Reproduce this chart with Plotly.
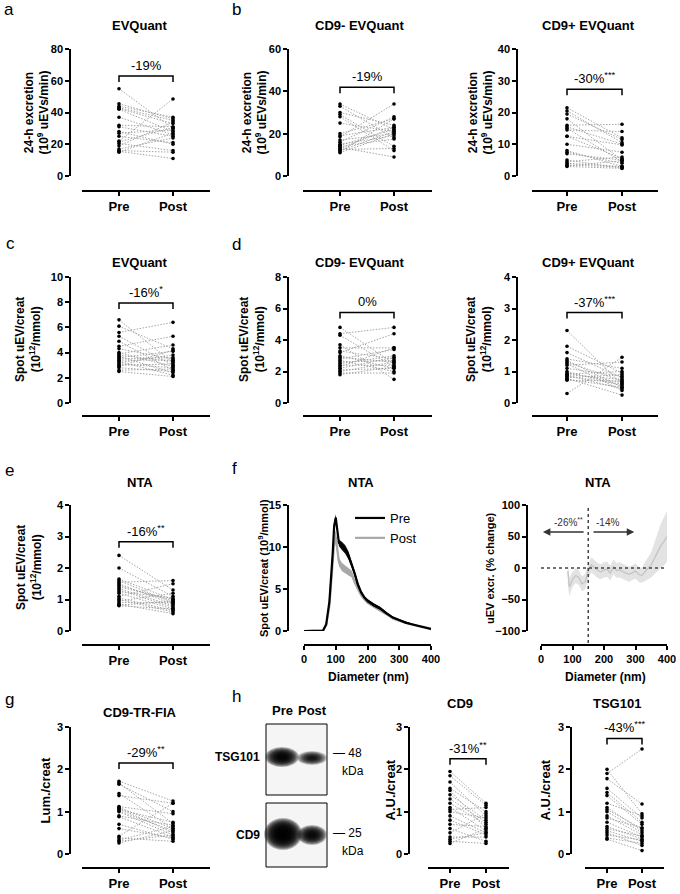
import plotly.graph_objects as go

W, H = 680, 894
FONT = "Liberation Sans, Arial, Helvetica, sans-serif"

# ---------------- data ----------------
timepoints = ["Pre", "Post"]

# a  EVQuant, 24-h excretion
a_pre = [55, 45.5, 44, 43, 42.5, 42, 37, 32, 31, 28, 27, 25, 22, 21.5, 20.5, 19, 17, 16, 15.5, 15]
a_post = [30, 36, 37, 35, 33, 28, 26, 31, 25, 20, 29, 21, 48.5, 30.5, 16, 34, 24, 15, 11, 27]
# b  CD9- EVQuant, 24-h excretion
b1_pre = [34, 33, 30, 29, 28, 25, 20, 19, 18.5, 17, 16, 15, 14.5, 14, 13.5, 13, 12.5, 12, 11.5, 11]
b1_post = [22, 18, 24, 14, 12, 21, 27, 23, 34, 20, 28, 19, 22, 17.5, 9, 23, 13, 21, 27, 20]
# b  CD9+ EVQuant, 24-h excretion
b2_pre = [21.5, 20.5, 19.5, 18, 16, 15.5, 15, 14.5, 12.5, 12.5, 10, 8, 7.5, 7, 5, 4.5, 4, 3.5, 3.2, 3]
b2_post = [12, 10.5, 11.5, 5, 16.3, 10, 4.5, 14, 9.8, 5.5, 7.5, 3, 4, 5, 2.5, 6, 3, 2.8, 4.8, 2.4]
# c  EVQuant, spot
c_pre = [6.6, 6.1, 5.6, 5.3, 4.9, 4.5, 4.3, 4.0, 3.9, 3.8, 3.7, 3.6, 3.5, 3.4, 3.3, 3.2, 3.1, 3.0, 2.9, 2.8, 2.6, 2.5]
c_post = [3.2, 4.3, 6.4, 3.0, 2.6, 5.3, 3.5, 2.9, 4.6, 3.3, 2.4, 4.1, 3.6, 3.4, 2.2, 3.8, 2.8, 3.1, 4.2, 2.5, 2.7, 2.1]
# d  CD9- EVQuant, spot
d1_pre = [4.8, 4.4, 4.3, 3.7, 3.5, 3.3, 3.2, 3.0, 2.9, 2.8, 2.7, 2.6, 2.5, 2.4, 2.3, 2.2, 2.1, 2.0, 1.9, 1.8]
d1_post = [2.5, 4.8, 2.3, 1.5, 3.5, 2.8, 4.4, 2.2, 2.6, 3.4, 2.0, 2.7, 3.0, 2.4, 3.5, 2.9, 2.2, 2.6, 1.9, 2.3]
# d  CD9+ EVQuant, spot
d2_pre = [2.3, 1.8, 1.6, 1.4, 1.35, 1.3, 1.2, 1.1, 1.0, 0.95, 0.92, 0.9, 0.88, 0.85, 0.8, 0.78, 0.75, 0.72, 0.3, 1.25]
d2_post = [0.6, 0.95, 0.8, 1.1, 0.5, 0.7, 1.3, 0.85, 0.55, 0.65, 1.0, 0.75, 0.45, 0.6, 0.9, 0.25, 0.5, 0.7, 1.45, 0.4]
# e  NTA, spot
e_pre = [2.4, 2.0, 1.65, 1.6, 1.55, 1.5, 1.45, 1.4, 1.35, 1.3, 1.2, 1.1, 1.05, 1.0, 0.95, 0.9, 0.85, 0.82, 0.8, 1.25]
e_post = [1.3, 1.1, 1.0, 0.9, 1.6, 0.85, 0.95, 1.0, 0.8, 0.75, 0.7, 1.5, 0.65, 0.6, 1.2, 0.9, 0.55, 0.95, 0.7, 1.05]
# f  NTA size distribution
f_diam = [0, 20, 40, 60, 70, 80, 90, 95, 100, 105, 110, 120, 130, 140, 150, 160, 170, 180, 190, 200,
          220, 240, 260, 280, 300, 320, 340, 360, 380, 400]
f_pre_mean = [0, 0, 0, 0.05, 0.8, 3.5, 9, 12.5, 13.5, 12, 10.5, 10.1, 9.7, 9.0, 8.0, 6.8, 5.5, 4.6, 4.0, 3.6,
              3.1, 2.7, 2.1, 1.6, 1.3, 1.0, 0.8, 0.6, 0.4, 0.25]
f_pre_sem = [0, 0, 0, 0.05, 0.2, 0.3, 0.4, 0.4, 0.4, 0.4, 0.4, 0.5, 0.5, 0.5, 0.4, 0.35, 0.3, 0.25, 0.2, 0.2,
             0.2, 0.2, 0.15, 0.12, 0.1, 0.1, 0.08, 0.06, 0.05, 0.04]
f_post_mean = [0, 0, 0, 0.05, 0.7, 3.0, 8, 10.5, 11.2, 9.5, 8.2, 7.6, 7.3, 7.1, 6.8, 5.8, 5.0, 4.3, 3.8, 3.4,
               2.9, 2.5, 2.0, 1.5, 1.2, 0.95, 0.75, 0.55, 0.38, 0.22]
f_post_sem = [0, 0, 0, 0.05, 0.2, 0.4, 0.6, 0.8, 0.8, 0.6, 0.5, 0.5, 0.5, 0.5, 0.4, 0.35, 0.3, 0.25, 0.2, 0.2,
              0.2, 0.2, 0.15, 0.12, 0.1, 0.1, 0.08, 0.06, 0.05, 0.04]
# f  NTA % change
f2_diam = [85, 90, 100, 110, 120, 130, 140, 150, 160, 170, 180, 190, 200, 210, 220, 230, 240, 250, 260,
           270, 280, 290, 300, 310, 320, 330, 340, 350, 360, 370, 380, 390, 400]
f2_mean = [-5, -30, -18, -12, -15, -25, -22, -5, 5, 0, -4, -6, -3, -2, -8, 2, -4, -3, -6, -8, -10, -7,
           -5, -10, -12, -6, 0, 5, 15, 25, 35, 42, 50]
f2_err = [20, 15, 12, 12, 12, 12, 12, 12, 12, 12, 12, 12, 12, 12, 12, 12, 12, 12, 12, 12, 12, 12, 12,
          12, 12, 15, 18, 20, 25, 30, 35, 38, 40]
# g  CD9-TR-FIA
g_pre = [1.72, 1.68, 1.65, 1.43, 1.38, 1.12, 1.08, 1.05, 1.02, 1.0, 0.9, 0.88, 0.6, 0.42, 0.38, 0.33, 0.3, 0.26, 0.7, 1.1]
g_post = [1.25, 0.72, 1.0, 0.6, 1.2, 0.95, 0.5, 0.75, 0.55, 0.45, 0.68, 0.4, 0.38, 1.2, 0.3, 0.65, 0.45, 0.55, 0.35, 0.6]
# h  western blot quantification
h1_pre = [1.95, 1.85, 1.7, 1.55, 1.5, 1.4, 1.3, 1.2, 1.1, 1.05, 1.0, 0.9, 0.8, 0.7, 0.6, 0.5, 0.4, 0.35, 0.3, 0.25]
h1_post = [1.2, 1.15, 0.9, 1.0, 0.6, 0.8, 0.75, 0.7, 0.55, 1.1, 0.85, 0.5, 0.45, 0.65, 0.3, 0.95, 0.4, 0.5, 0.25, 0.6]
h2_pre = [2.0, 1.9, 1.78, 1.55, 1.45, 1.38, 1.2, 1.1, 1.05, 1.0, 0.9, 0.85, 0.75, 0.65, 0.55, 0.5, 0.45, 0.38, 0.35, 0.6]
h2_post = [0.95, 2.48, 1.18, 0.85, 0.75, 0.7, 0.9, 0.55, 0.6, 0.5, 0.45, 0.62, 0.4, 0.35, 0.3, 0.2, 0.33, 0.25, 0.08, 0.42]


def fx(px):
    return px / W


def fy(py):
    return 1 - py / H


fig = go.Figure()
annotations = []
shapes = []
layout_axes = {}


def names(i):
    s = "" if i == 1 else str(i)
    return "xaxis" + s, "yaxis" + s, "x" + s, "y" + s


def axis_common():
    return dict(showline=True, linecolor="black", linewidth=1.5, ticks="outside", ticklen=4,
                tickwidth=1.5, tickcolor="black", showgrid=False, zeroline=False,
                automargin=False, fixedrange=True)


def ptext(x, y, text, size=12, bold=False, xanchor="center", angle=0, color="black"):
    annotations.append(dict(x=fx(x), y=fy(y), xref="paper", yref="paper", xanchor=xanchor, yanchor="middle",
                            text=("<b>%s</b>" % text) if bold else text, textangle=angle, showarrow=False,
                            font=dict(size=size, color=color, family=FONT)))


def add_paired(i, pre, post, colgeo, rowgeo, yticks, br, label, title, tx, ty, ytitle, ytx, yt_size=12):
    xa, ya, xr, yr = names(i)
    yl, xl0, xl1, xpre, xpost = colgeo
    ytop, yzero, xline = rowgeo
    unit = xpost - xpre
    r0 = -(xpre - xl0) / unit
    r1 = 1 + (xl1 - xpost) / unit
    ymax = yticks[-1]
    layout_axes[xa] = dict(axis_common(), domain=[fx(xl0), fx(xl1)], range=[r0, r1], anchor="free",
                           position=fy(xline), tickvals=[0, 1], ticktext=timepoints,
                           tickfont=dict(size=13, weight="bold", color="black", family=FONT))
    layout_axes[ya] = dict(axis_common(), domain=[fy(yzero), fy(ytop)], range=[0, ymax], anchor="free",
                           position=fx(yl), tickvals=yticks,
                           tickfont=dict(size=11, weight="bold", color="black", family=FONT))
    lx, ly = [], []
    for p, q in zip(pre, post):
        lx += [0, 1, None]
        ly += [p, q, None]
    fig.add_trace(go.Scatter(x=lx, y=ly, xaxis=xr, yaxis=yr, mode="lines", showlegend=False,
                             line=dict(color="#9c9c9c", width=0.9, dash="1.5px,1.5px"), hoverinfo="skip"))
    fig.add_trace(go.Scatter(x=[0] * len(pre) + [1] * len(post), y=list(pre) + list(post), xaxis=xr, yaxis=yr,
                             mode="markers", showlegend=False, cliponaxis=False,
                             marker=dict(color="black", size=3.6)))
    bh = ymax * 6 / (yzero - ytop)
    fig.add_trace(go.Scatter(x=[0, 0, 1, 1], y=[br - bh, br, br, br - bh], xaxis=xr, yaxis=yr, mode="lines",
                             showlegend=False, cliponaxis=False, line=dict(color="black", width=1.5),
                             hoverinfo="skip"))
    annotations.append(dict(x=0.5, y=br, xref=xr, yref=yr, text=label, showarrow=False, xanchor="center",
                            yanchor="bottom", yshift=1, font=dict(size=13, color="black", family=FONT)))
    ptext(tx, ty, title, size=13, bold=True)
    ptext(ytx, (ytop + yzero) / 2, ytitle, size=yt_size, bold=True, angle=-90)


colA = (70, 82, 210, 119, 173)
colB1 = (288, 303, 432, 340, 394)
colB2 = (517, 532, 658, 567, 622)
colH1 = (409, 428, 509, 450, 486)
colH2 = (571, 585, 664, 607, 642)
row1 = (49, 176, 191)
row2 = (277, 403, 416)
row3 = (505, 631, 645)
row4 = (727, 854, 868)

yt24 = "24-h excretion<br>(10<sup>9</sup> uEVs/min)"
ytsp = "Spot uEV/creat<br>(10<sup>12</sup>/mmol)"

add_paired(1, a_pre, a_post, colA, row1, [0, 20, 40, 60, 80], 63, "-19%", "EVQuant", 140, 26, yt24, 36)
add_paired(2, b1_pre, b1_post, colB1, row1, [0, 20, 40, 60], 41.9, "-19%", "CD9- EVQuant", 360, 26, yt24, 254)
add_paired(3, b2_pre, b2_post, colB2, row1, [0, 10, 20, 30, 40], 27.3, "-30%<sup>***</sup>", "CD9+ EVQuant", 588, 26, yt24, 480)
add_paired(4, c_pre, c_post, colA, row2, [0, 2, 4, 6, 8, 10], 7.94, "-16%<sup>*</sup>", "EVQuant", 140, 262, ytsp, 28)
add_paired(5, d1_pre, d1_post, colB1, row2, [0, 2, 4, 6, 8], 5.75, "0%", "CD9- EVQuant", 360, 262, ytsp, 252)
add_paired(6, d2_pre, d2_post, colB2, row2, [0, 1, 2, 3, 4], 2.87, "-37%<sup>***</sup>", "CD9+ EVQuant", 588, 262, ytsp, 479)
add_paired(7, e_pre, e_post, colA, row3, [0, 1, 2, 3, 4], 2.83, "-16%<sup>**</sup>", "NTA", 140, 482, ytsp, 29)
add_paired(10, g_pre, g_post, colA, row4, [0, 1, 2, 3], 2.15, "-29%<sup>**</sup>", "CD9-TR-FIA", 140, 712, "Lum./creat", 45, 13)
add_paired(11, h1_pre, h1_post, colH1, row4, [0, 1, 2, 3], 2.25, "-31%<sup>**</sup>", "CD9", 460, 703, "A.U./creat", 390, 13)
add_paired(12, h2_pre, h2_post, colH2, row4, [0, 1, 2, 3], 2.73, "-43%<sup>***</sup>", "TSG101", 617, 703, "A.U./creat", 545, 13)

# ---------- f left: size distribution ----------
xa, ya, xr, yr = names(8)
layout_axes[xa] = dict(axis_common(), domain=[fx(304), fx(431)], range=[0, 400], anchor="free", position=fy(645),
                       tickvals=[0, 100, 200, 300, 400],
                       tickfont=dict(size=11, weight="bold", color="black", family=FONT))
layout_axes[ya] = dict(axis_common(), domain=[fy(631), fy(505)], range=[0, 15], anchor="free", position=fx(288),
                       tickvals=[0, 5, 10, 15], tickfont=dict(size=11, weight="bold", color="black", family=FONT))
for name, mean, sem, col, band, rank in [("Post", f_post_mean, f_post_sem, "#a8a8a8", "rgba(160,160,160,0.9)", 2),
                                        ("Pre", f_pre_mean, f_pre_sem, "black", "rgba(0,0,0,0.95)", 1)]:
    up = [m + s for m, s in zip(mean, sem)]
    lo = [m - s for m, s in zip(mean, sem)]
    fig.add_trace(go.Scatter(x=f_diam + f_diam[::-1], y=up + lo[::-1], xaxis=xr, yaxis=yr, fill="toself",
                             fillcolor=band, line=dict(width=0), showlegend=False, hoverinfo="skip"))
    fig.add_trace(go.Scatter(x=f_diam, y=mean, xaxis=xr, yaxis=yr, mode="lines", name=name, legendrank=rank,
                             line=dict(color=col, width=2.2)))
ptext(361, 482, "NTA", size=13, bold=True)
ptext(263, 568, "Spot uEV/creat (10<sup>9</sup>/mmol)", size=11, bold=True, angle=-90)
ptext(368, 677, "Diameter (nm)", size=12, bold=True)

# ---------- f right: % change ----------
xa, ya, xr, yr = names(9)
layout_axes[xa] = dict(axis_common(), domain=[fx(541), fx(667)], range=[0, 400], anchor="free", position=fy(645),
                       tickvals=[0, 100, 200, 300, 400],
                       tickfont=dict(size=11, weight="bold", color="black", family=FONT))
layout_axes[ya] = dict(axis_common(), domain=[fy(631), fy(505)], range=[-100, 100], anchor="free",
                       position=fx(527), tickvals=[-100, -50, 0, 50, 100],
                       tickfont=dict(size=11, weight="bold", color="black", family=FONT))
up2 = [m + e for m, e in zip(f2_mean, f2_err)]
lo2 = [m - e for m, e in zip(f2_mean, f2_err)]
fig.add_trace(go.Scatter(x=f2_diam + f2_diam[::-1], y=up2 + lo2[::-1], xaxis=xr, yaxis=yr, fill="toself",
                         fillcolor="#e3e3e3", line=dict(width=0), showlegend=False, hoverinfo="skip"))
fig.add_trace(go.Scatter(x=f2_diam, y=f2_mean, xaxis=xr, yaxis=yr, mode="lines", showlegend=False,
                         line=dict(color="#c4c4c4", width=1.3), hoverinfo="skip"))
shapes.append(dict(type="line", xref=xr, yref=yr, x0=0, x1=400, y0=0, y1=0,
                   line=dict(color="#444", width=1.5, dash="dot")))
shapes.append(dict(type="line", xref=xr, yref="paper", x0=150, x1=150, y0=fy(643), y1=fy(505),
                   line=dict(color="#444", width=1.5, dash="dot")))
annotations += [
    dict(x=6, y=57, ax=140, ay=57, xref=xr, yref=yr, axref=xr, ayref=yr, showarrow=True, arrowhead=2,
         arrowsize=1, arrowwidth=1.5, arrowcolor="#333", text=""),
    dict(x=296, y=57, ax=162, ay=57, xref=xr, yref=yr, axref=xr, ayref=yr, showarrow=True, arrowhead=2,
         arrowsize=1, arrowwidth=1.5, arrowcolor="#333", text=""),
    dict(x=88, y=57, xref=xr, yref=yr, text="-26%<sup>**</sup>", showarrow=False, xanchor="center",
         yanchor="bottom", yshift=2, font=dict(size=10, color="#333", family=FONT)),
    dict(x=210, y=57, xref=xr, yref=yr, text="-14%", showarrow=False, xanchor="center", yanchor="bottom",
         yshift=2, font=dict(size=10, color="#333", family=FONT)),
    dict(x=156, y=-104, xref=xr, yref=yr, text="150 nm", showarrow=False, xanchor="left", yanchor="middle",
         font=dict(size=9, color="#333", family=FONT)),
]
ptext(598, 482, "NTA", size=13, bold=True)
ptext(490, 568, "uEV excr. (% change)", size=11, bold=True, angle=-90)
ptext(605, 677, "Diameter (nm)", size=12, bold=True)


# ---------- h blots ----------
def blot_box(x0, x1, y0, y1):
    shapes.append(dict(type="rect", xref="paper", yref="paper", x0=fx(x0), x1=fx(x1), y0=fy(y1), y1=fy(y0),
                       fillcolor="#f5f5f5", line=dict(color="black", width=1), layer="below"))


def blot_band(cx, cy, rx, ry, alpha, steps=14):
    for k in range(steps):
        s = 1 - k * (0.85 / steps)
        shapes.append(dict(type="circle", xref="paper", yref="paper", x0=fx(cx - rx * s), x1=fx(cx + rx * s),
                           y0=fy(cy + ry * s), y1=fy(cy - ry * s), fillcolor="rgba(0,0,0,%.3f)" % alpha,
                           line=dict(width=0)))


blot_box(266, 327, 724, 795)
blot_box(266, 327, 803, 867)
blot_band(282, 757, 17, 10, 0.22)
blot_band(312, 758, 15, 7, 0.15)
blot_band(283, 834, 19, 16, 0.28)
blot_band(312, 835, 15, 10, 0.2)
ptext(282, 710, "Pre", size=13, bold=True)
ptext(312, 710, "Post", size=13, bold=True)
ptext(262, 757, "TSG101", size=12, bold=True, xanchor="right")
ptext(262, 835, "CD9", size=12, bold=True, xanchor="right")
ptext(331, 753, "— 48", size=12, xanchor="left")
ptext(340, 771, "kDa", size=12, xanchor="left")
ptext(331, 833, "— 25", size=12, xanchor="left")
ptext(340, 851, "kDa", size=12, xanchor="left")

# ---------- panel letters ----------
for letter, x, y in [("a", 2, 9), ("b", 230, 9), ("c", 4, 243), ("d", 230, 245), ("e", 3, 470),
                     ("f", 230, 468), ("g", 3, 699), ("h", 230, 696)]:
    ptext(x, y, letter, size=17, xanchor="left")

fig.update_layout(
    width=W, height=H, margin=dict(l=0, r=0, t=0, b=0), paper_bgcolor="white", plot_bgcolor="white",
    font=dict(family=FONT, color="black"), annotations=annotations, shapes=shapes, showlegend=True,
    legend=dict(x=fx(350), y=fy(503), xanchor="left", yanchor="top", bgcolor="rgba(0,0,0,0)",
                font=dict(size=13, family=FONT, color="black"), itemwidth=30, tracegroupgap=0),
    **layout_axes,
)
fig.write_html("out.html", config={"displayModeBar": False},
               post_script="document.body.style.margin='0';document.body.style.overflow='hidden';")
